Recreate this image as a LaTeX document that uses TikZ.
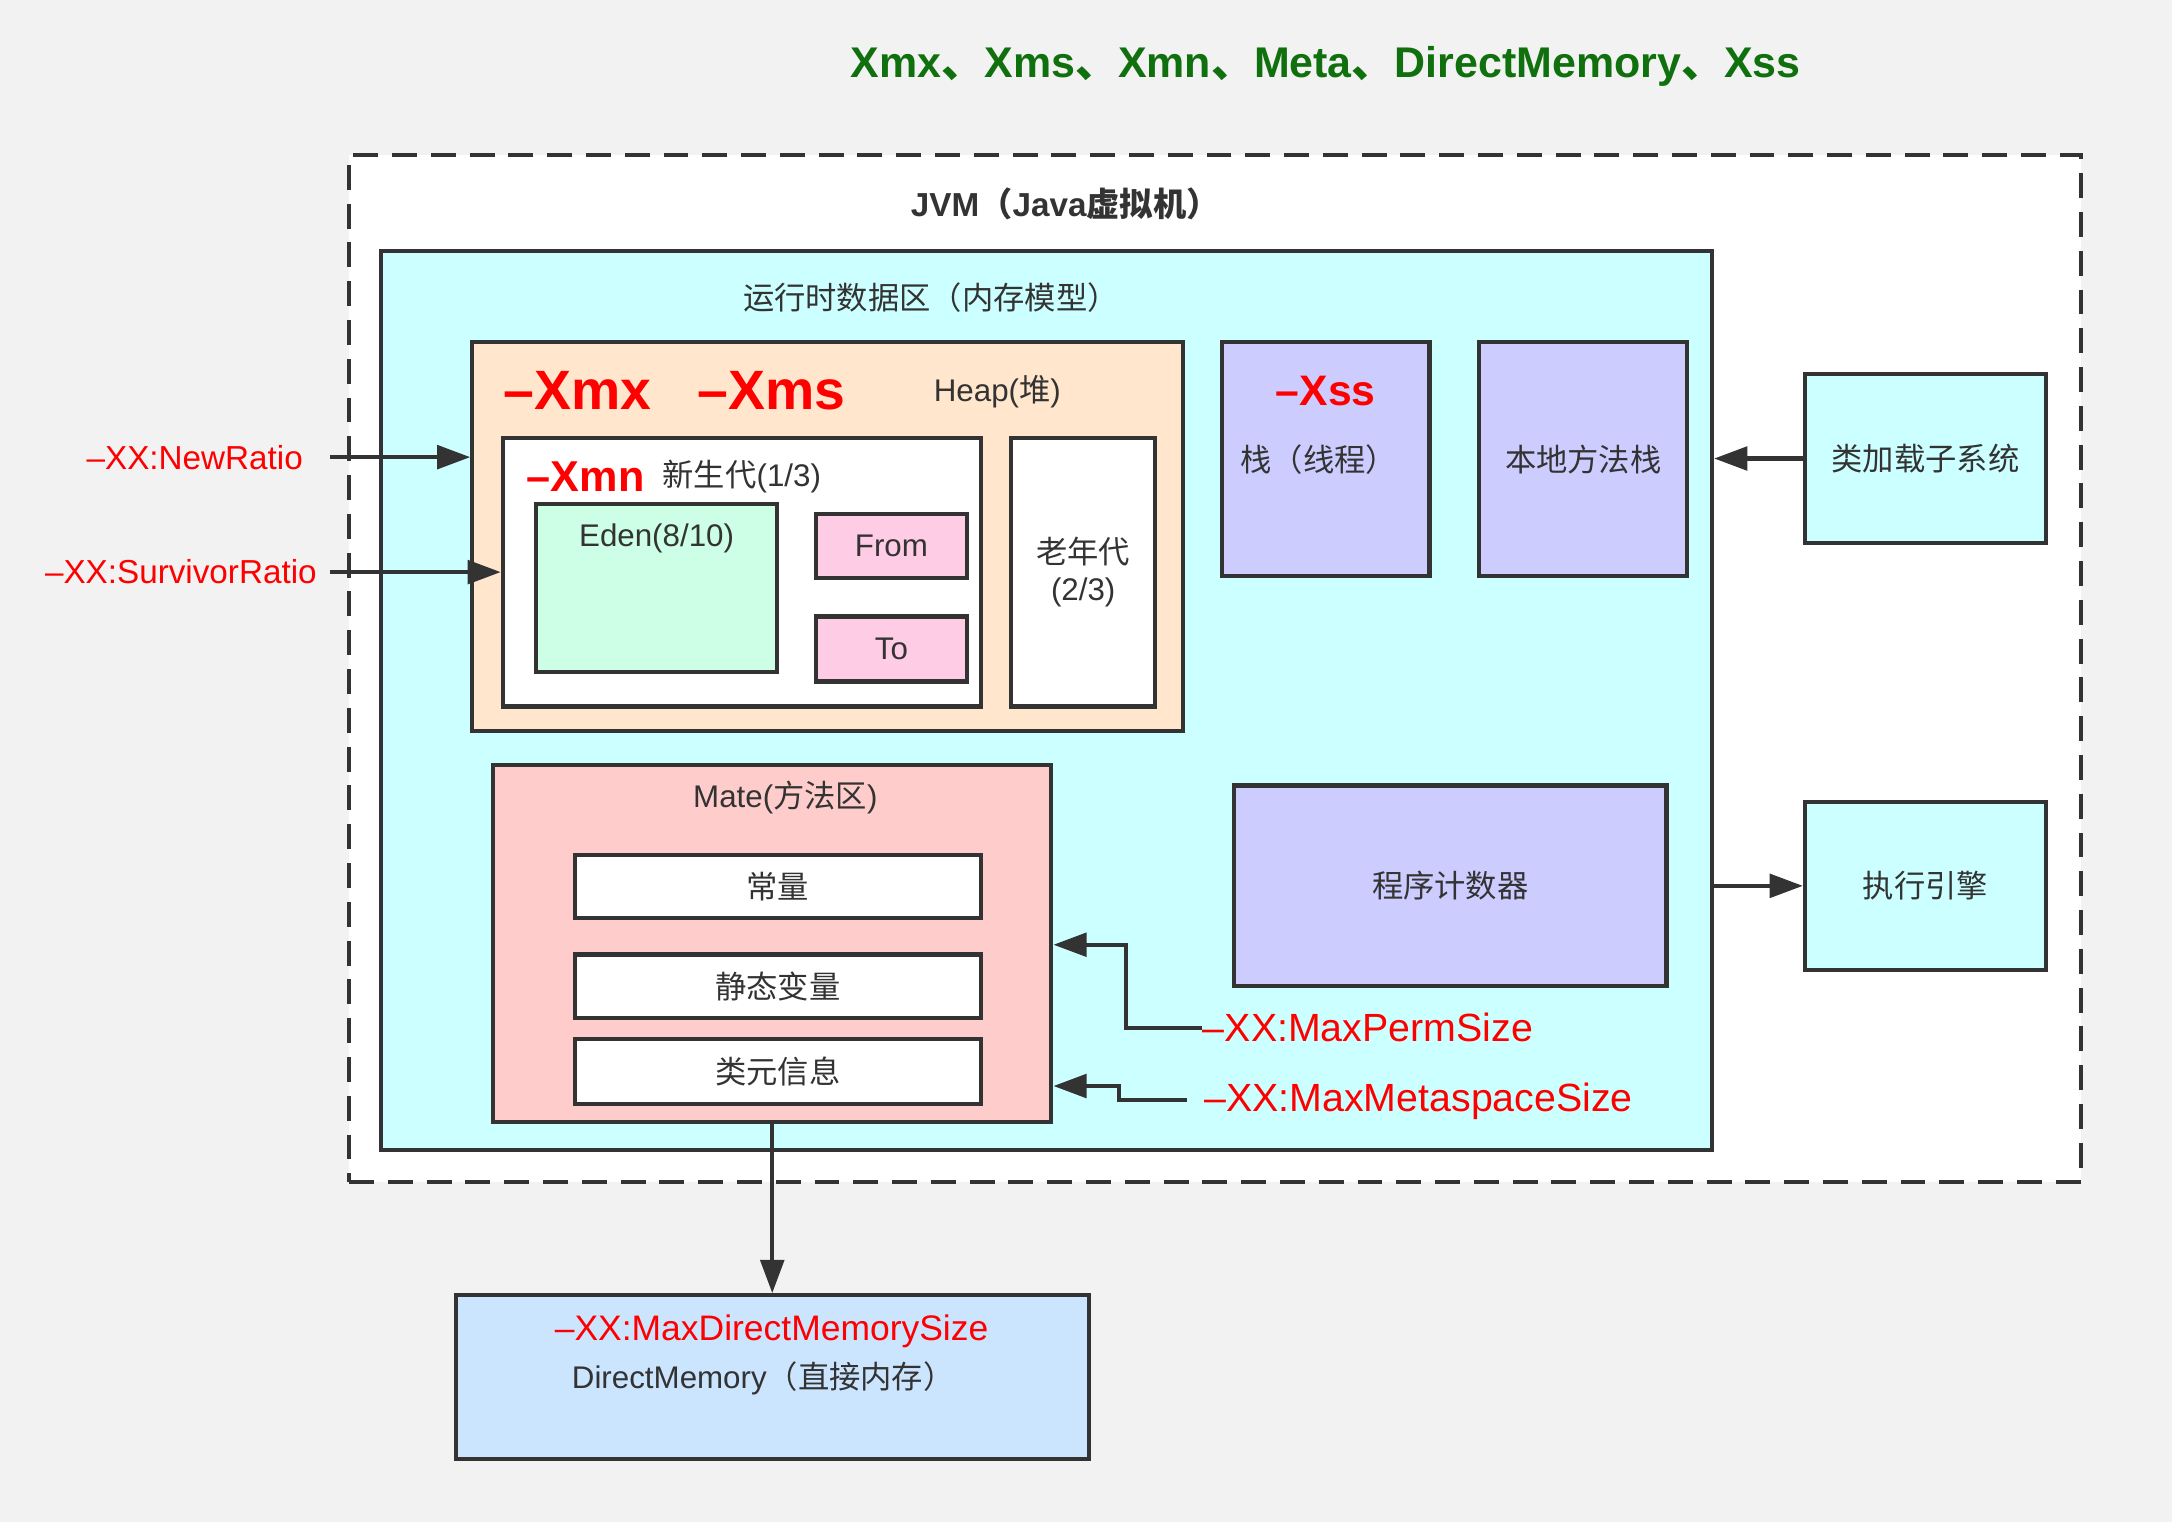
\documentclass[tikz,border=0pt]{standalone}
\usepackage{fontspec}
\setmainfont{Liberation Sans}
\newfontfamily\cjk{Noto Sans CJK SC}
\usetikzlibrary{arrows.meta}
\definecolor{bgc}{HTML}{F2F2F2}
\definecolor{ink}{HTML}{333333}
\definecolor{txt}{HTML}{333333}
\definecolor{redc}{HTML}{FF0000}
\definecolor{greenc}{HTML}{11700E}
\definecolor{cyanc}{HTML}{CCFFFF}
\definecolor{heapc}{HTML}{FFE6CC}
\definecolor{edenc}{HTML}{CCFFE6}
\definecolor{pinkc}{HTML}{FFCCE6}
\definecolor{violc}{HTML}{CCCCFF}
\definecolor{matec}{HTML}{FFCCCC}
\definecolor{dmc}{HTML}{CCE5FF}
\newcommand{\cj}[1]{{\cjk #1}}
\newcommand{\bx}[6]{\node[box,#6,minimum width={(#4-#2)*0.5pt},minimum height={(#5-#3)*0.5pt}] (#1) at ({(#2+#4)/2},{(#3+#5)/2}) {};}
\newcommand{\bxt}[7]{\node[box,#6,minimum width={(#4-#2)*0.5pt},minimum height={(#5-#3)*0.5pt}] (#1) at ({(#2+#4)/2},{(#3+#5)/2}) {#7};}
\begin{document}
\begin{tikzpicture}[x=0.5pt,y=-0.5pt,
  box/.style={draw=ink,line width=1.5pt,inner sep=0pt,text=txt,font=\fontsize{11.3}{13.6}\selectfont},
  lbl/.style={inner sep=0pt,text=txt,font=\fontsize{11.3}{13.6}\selectfont},
  redlbl/.style={inner sep=0pt,text=redc},
  arr/.style={draw=ink,line width=1.5pt,-{Triangle[length=12pt,width=8.5pt]}},
  ln/.style={draw=ink,line width=1.5pt}]
\useasboundingbox[fill=bgc] (0,0) rectangle (1568,1099);

% title
\node[inner sep=0pt,text=greenc,font=\fontsize{15.5}{18}\selectfont\bfseries] (title) at (957,48)
  {Xmx\cj{、}Xms\cj{、}Xmn\cj{、}Meta\cj{、}DirectMemory\cj{、}Xss};

% JVM
\bx{jvm}{252}{112}{1502}{853}{fill=white,dash pattern=on 9pt off 5pt}
\node[lbl,font=\fontsize{12}{14.4}\selectfont\bfseries] (jvmlbl) at (769,147) {JVM\cj{（}Java\cj{虚拟机）}};

% runtime data area
\bx{rt}{275}{181}{1236}{830}{fill=cyanc}
\node[lbl] (rtlbl) at (672,215) {\cj{运行时数据区（内存模型）}};

% heap
\bx{heap}{341}{247}{854}{528}{fill=heapc}
\node[redlbl,anchor=west,font=\fontsize{20}{24}\selectfont\bfseries] (xmx) at (363,282) {–Xmx};
\node[redlbl,anchor=west,font=\fontsize{20}{24}\selectfont\bfseries] (xms) at (503,282) {–Xms};
\node[lbl] (heaplbl) at (720,283) {Heap(\cj{堆})};

\bx{young}{363}{316}{708}{510}{fill=white}
\node[redlbl,anchor=west,font=\fontsize{15.6}{18}\selectfont\bfseries] (xmn) at (380,344) {–Xmn};
\node[lbl,anchor=west] (younglbl) at (478,344) {\cj{新生代}(1/3)};

\bx{eden}{387}{364}{561}{485}{fill=edenc}
\node[lbl] (edenlbl) at (474,389) {Eden(8/10)};
\bxt{from}{589}{371}{698}{417}{fill=pinkc}{From}
\bxt{to}{589}{445}{698}{492}{fill=pinkc}{To}

\bx{old}{730}{316}{834}{510}{fill=white}
\node[lbl,align=center,font=\fontsize{11.3}{13.5}\selectfont] (oldlbl) at (782,413) {\cj{老年代}\\(2/3)};

% stacks
\bx{stack}{882}{247}{1032}{416}{fill=violc}
\node[redlbl,font=\fontsize{15.4}{18}\selectfont\bfseries] (xss) at (957,282) {–Xss};
\node[lbl] (stacklbl) at (952,332) {\cj{栈（线程）}};
\bxt{native}{1068}{247}{1218}{416}{fill=violc}{\cj{本地方法栈}}

% outside boxes
\bxt{loader}{1303}{270}{1477}{392}{fill=cyanc}{\cj{类加载子系统}}
\bxt{engine}{1303}{579}{1477}{700}{fill=cyanc}{\cj{执行引擎}}

% program counter
\bxt{pc}{891}{567}{1203}{712}{fill=violc}{\cj{程序计数器}}

% method area
\bx{mate}{356}{552}{759}{810}{fill=matec}
\node[lbl] (matelbl) at (567,576) {Mate(\cj{方法区})};
\bxt{c1}{415}{617}{708}{663}{fill=white}{\cj{常量}}
\bxt{c2}{415}{689}{708}{735}{fill=white}{\cj{静态变量}}
\bxt{c3}{415}{750}{708}{797}{fill=white}{\cj{类元信息}}

% direct memory
\bx{dm}{329}{935}{786}{1053}{fill=dmc}
\node[redlbl,font=\fontsize{12.8}{15}\selectfont] (dmred) at (557,961) {–XX:MaxDirectMemorySize};
\node[lbl] (dmlbl) at (551,995) {DirectMemory\cj{（直接内存）}};

% left labels
\node[redlbl,anchor=east,font=\fontsize{12}{14}\selectfont] (nr) at (219,330) {–XX:NewRatio};
\node[redlbl,anchor=east,font=\fontsize{12}{14}\selectfont] (sr) at (229,413) {–XX:SurvivorRatio};
\coordinate (nrs) at (238,330);
\coordinate (srs) at (238,413);
\draw[arr] (nrs) -- (nrs -| heap.west);
\draw[arr] (srs) -- (srs -| young.west);

% right labels
\node[redlbl,anchor=west,font=\fontsize{14.2}{17}\selectfont] (perm) at (868,742) {–XX:MaxPermSize};
\node[redlbl,anchor=west,font=\fontsize{14.2}{17}\selectfont] (meta) at (869,795) {–XX:MaxMetaspaceSize};
\coordinate (pm1) at (813,742);
\coordinate (pm2) at (813,682);
\coordinate (mm0) at (857,794);
\coordinate (mm1) at (808,794);
\coordinate (mm2) at (808,784);
\draw[arr] (perm.west) -- (pm1) -- (pm2) -- (pm2 -| mate.east);
\draw[arr] (mm0) -- (mm1) -- (mm2) -- (mm2 -| mate.east);

% other connectors
\draw[arr] (loader.west) -- (loader.west -| rt.east);
\draw[arr] (engine.west -| rt.east) -- (engine.west);
\draw[arr] (mate.south) -- (dm.north);
\end{tikzpicture}
\end{document}
